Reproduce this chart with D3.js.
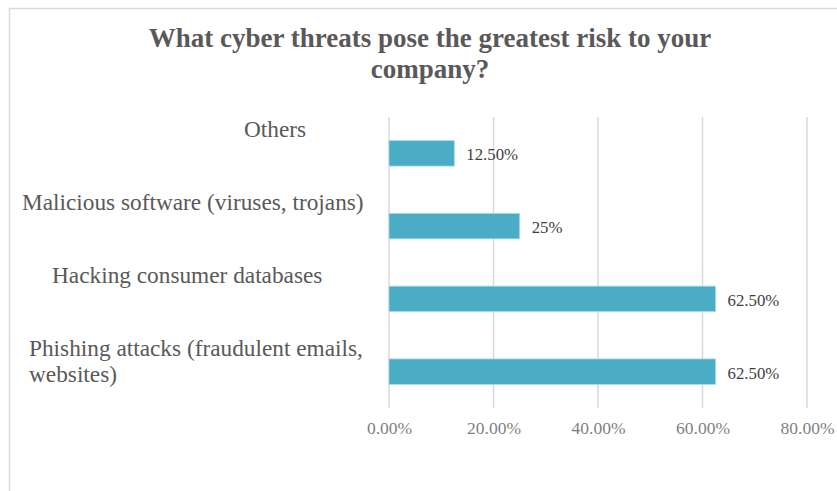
<!DOCTYPE html>
<html>
<head>
<meta charset="utf-8">
<script src="https://cdn.jsdelivr.net/npm/d3@7"></script>
<style>
  html, body { margin: 0; padding: 0; background: #ffffff; }
  svg { display: block; }
</style>
</head>
<body>
<svg id="chart" width="837" height="491"></svg>
<script>
// Survey answers, listed top to bottom
const categories = [
  "Others",
  "Malicious software (viruses, trojans)",
  "Hacking consumer databases",
  "Phishing attacks (fraudulent emails,\nwebsites)"
];
const shares = [0.125, 0.25, 0.625, 0.625];
const shareLabels = ["12.50%", "25%", "62.50%", "62.50%"];
const tickValues = [0, 0.2, 0.4, 0.6, 0.8];
const titleLines = ["What cyber threats pose the greatest risk to your", "company?"];

// Layout
const W = 837, H = 491;
const plot = { left: 389, right: 807, top: 117, bottom: 408 };
const labelLeft = [244, 22, 52, 29];   // left edge of each category label block
const serif = "'Liberation Serif', 'Times New Roman', serif";

const svg = d3.select("#chart");

// Chart frame
svg.append("rect")
  .attr("x", 9.5).attr("y", 8.5)
  .attr("width", W + 20).attr("height", H + 20)
  .attr("fill", "#ffffff")
  .attr("stroke", "#d9d9d9").attr("stroke-width", 1.5);

// Title
svg.append("text")
  .attr("text-anchor", "middle")
  .attr("font-family", serif)
  .attr("font-weight", "bold")
  .attr("font-size", 27)
  .attr("fill", "#595959")
  .selectAll("tspan")
  .data(titleLines)
  .join("tspan")
  .attr("x", 430)
  .attr("y", (d, i) => 47 + i * 31)
  .text(d => d);

const x = d3.scaleLinear().domain([0, 0.8]).range([plot.left, plot.right]);
const y = d3.scaleBand()
  .domain(categories)
  .range([plot.top, plot.bottom])
  .paddingInner(0.65)
  .paddingOuter(0.325);

// Vertical gridlines
svg.append("g")
  .selectAll("line")
  .data(tickValues)
  .join("line")
  .attr("x1", d => x(d)).attr("x2", d => x(d))
  .attr("y1", plot.top).attr("y2", plot.bottom)
  .attr("stroke", "#d9d9d9").attr("stroke-width", 1.5);

// Bottom axis: tick labels only
const xAxis = d3.axisBottom(x)
  .tickValues(tickValues)
  .tickFormat(d3.format(".2%"))
  .tickSize(0)
  .tickPadding(0);

const axisG = svg.append("g")
  .attr("transform", `translate(0,${plot.bottom})`)
  .call(xAxis);
axisG.select(".domain").remove();
axisG.selectAll("text")
  .attr("font-family", serif)
  .attr("font-size", 17.5)
  .attr("fill", "#7f7f7f")
  .attr("dy", 0)
  .attr("y", 26);

// Bars
svg.append("g")
  .selectAll("rect")
  .data(categories)
  .join("rect")
  .attr("x", x(0))
  .attr("y", d => y(d))
  .attr("width", (d, i) => x(shares[i]) - x(0))
  .attr("height", y.bandwidth())
  .attr("fill", "#4bacc6")
  .attr("stroke", "#a9dbe8")
  .attr("stroke-width", 0.8);

// Value labels to the right of each bar
svg.append("g")
  .selectAll("text")
  .data(categories)
  .join("text")
  .attr("x", (d, i) => x(shares[i]) + 12)
  .attr("y", d => y(d) + y.bandwidth() / 2 + 7)
  .attr("font-family", serif)
  .attr("font-size", 16.8)
  .attr("fill", "#404040")
  .text((d, i) => shareLabels[i]);

// Category labels, sitting above their bars
const catG = svg.append("g")
  .selectAll("text")
  .data(categories)
  .join("text")
  .attr("font-family", serif)
  .attr("font-size", 23.3)
  .attr("fill", "#595959");

catG.selectAll("tspan")
  .data((d, i) => d.split("\n").map((line, k) => ({ line, k, cat: d, i })))
  .join("tspan")
  .attr("x", d => labelLeft[d.i])
  .attr("y", d => y(d.cat) + y.bandwidth() / 2 - 16 + d.k * 26)
  .text(d => d.line);
</script>
</body>
</html>
